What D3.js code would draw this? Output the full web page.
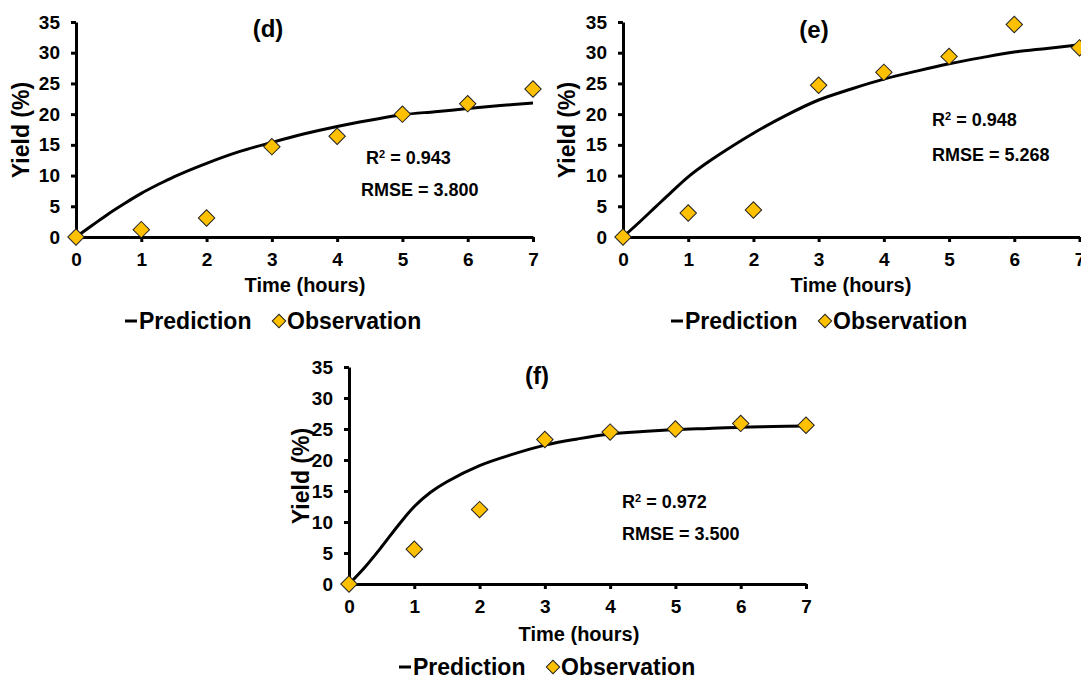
<!DOCTYPE html>
<html>
<head>
<meta charset="utf-8">
<script src="https://cdn.jsdelivr.net/npm/d3@7"></script>
<style>
  body { margin: 0; background: #fff; }
  svg { display: block; font-family: "Liberation Sans", Arial, sans-serif; font-weight: bold; }
</style>
</head>
<body>
<svg id="chart"></svg>
<script>
// Yield vs time: prediction curve and observations, panels (d), (e), (f)

const hours = [0, 1, 2, 3, 4, 5, 6, 7];
const yieldTicks = [0, 5, 10, 15, 20, 25, 30, 35];

const obsD = [0, 1.2, 3.1, 14.7, 16.4, 20.0, 21.7, 24.1];
const obsE = [0, 3.9, 4.4, 24.7, 26.8, 29.4, 34.6, 30.8];
const obsF = [0, 5.6, 12.0, 23.3, 24.5, 25.0, 25.9, 25.6];

const predHours = [0, 0.25, 0.5, 0.75, 1, 1.25, 1.5, 2, 2.5, 3, 3.5, 4, 4.5, 5, 5.5, 6, 6.5, 7];
const predD = [0, 1.9, 3.8, 5.5, 7.1, 8.5, 9.8, 12.0, 13.9, 15.4, 16.8, 18.0, 19.0, 19.9, 20.4, 20.9, 21.4, 21.8];
const predE = [0, 2.4, 4.9, 7.4, 9.8, 11.8, 13.6, 16.9, 19.8, 22.3, 24.1, 25.7, 27.0, 28.2, 29.2, 30.1, 30.7, 31.3];
const predF = [0, 2.8, 6.0, 9.4, 12.5, 14.8, 16.5, 19.1, 20.9, 22.4, 23.4, 24.2, 24.6, 24.9, 25.1, 25.3, 25.4, 25.5];

const panelNames = ["(d)", "(e)", "(f)"];
const r2Values = ["0.943", "0.948", "0.972"];
const rmseValues = ["3.800", "5.268", "3.500"];

const obsSeries = [obsD, obsE, obsF];
const predSeries = [predD, predE, predF];

// where each panel sits on the page
const layout = [
    { x: [76, 533], y: [237, 22], title: [268, 37], xLab: [305, 292], yLab: [23, 130],
      r2: [366, 164], rmse: [361, 196], legend: [125, 329] },
    { x: [623, 1079.5], y: [237, 22], title: [814, 38], xLab: [851, 292], yLab: [569, 130],
      r2: [932, 126], rmse: [932, 161], legend: [671, 329] },
    { x: [349, 806], y: [584, 367], title: [537, 384], xLab: [579, 641], yLab: [303, 476],
      r2: [622, 508], rmse: [622, 540], legend: [399, 675] }
];

const width = 1081;
const height = 679;

const svg = d3.select("#chart")
    .attr("width", width)
    .attr("height", height);

svg.append("rect").attr("width", width).attr("height", height).attr("fill", "#fff");

const gold = "#FFC000";
const diamond = d3.symbol().type(d3.symbolSquare).size(135);

layout.forEach((L, i) => {
    const x = d3.scaleLinear().domain([0, 7]).range(L.x);
    const y = d3.scaleLinear().domain([0, 35]).range(L.y);
    const g = svg.append("g");

    // axes
    const yAxis = g.append("g")
        .attr("transform", `translate(${L.x[0]},0)`)
        .call(d3.axisLeft(y).tickValues(yieldTicks).tickFormat(d3.format("d"))
            .tickSize(5).tickSizeOuter(0).tickPadding(11));
    const xAxis = g.append("g")
        .attr("transform", `translate(0,${L.y[0]})`)
        .call(d3.axisBottom(x).tickValues(hours).tickFormat(d3.format("d"))
            .tickSize(5).tickSizeOuter(0).tickPadding(11));

    [xAxis, yAxis].forEach(a => {
        a.select(".domain").attr("stroke", "#000").attr("stroke-width", 3);
        a.selectAll(".tick line").attr("stroke", "#000").attr("stroke-width", 3);
        a.selectAll(".tick text")
            .attr("fill", "#000")
            .style("font-size", "19px")
            .style("font-family", "'Liberation Sans', Arial, sans-serif")
            .style("font-weight", "bold");
    });

    // prediction curve
    const line = d3.line()
        .x((d, j) => x(predHours[j]))
        .y(d => y(d))
        .curve(d3.curveCatmullRom.alpha(0.5));

    g.append("path")
        .datum(predSeries[i])
        .attr("d", line)
        .attr("fill", "none")
        .attr("stroke", "#000")
        .attr("stroke-width", 3);

    // observations
    g.selectAll(".obs")
        .data(obsSeries[i])
        .enter().append("path")
        .attr("class", "obs")
        .attr("d", diamond)
        .attr("transform", (d, j) => `translate(${x(hours[j])},${y(d)}) rotate(45)`)
        .attr("fill", gold)
        .attr("stroke", "#222")
        .attr("stroke-width", 1);

    // titles and labels
    g.append("text")
        .attr("x", L.title[0]).attr("y", L.title[1])
        .attr("text-anchor", "middle")
        .style("font-size", "24px")
        .text(panelNames[i]);

    g.append("text")
        .attr("x", L.xLab[0]).attr("y", L.xLab[1])
        .attr("text-anchor", "middle")
        .style("font-size", "20px")
        .text("Time (hours)");

    g.append("text")
        .attr("transform", `translate(${L.yLab[0] + 6},${L.yLab[1]}) rotate(-90)`)
        .attr("text-anchor", "middle")
        .style("font-size", "23px")
        .text("Yield (%)");

    const r2 = g.append("text")
        .attr("x", L.r2[0]).attr("y", L.r2[1])
        .style("font-size", "18px");
    r2.append("tspan").text("R");
    r2.append("tspan").attr("dy", -6).style("font-size", "11px").text("2");
    r2.append("tspan").attr("dy", 6).text(" = " + r2Values[i]);

    g.append("text")
        .attr("x", L.rmse[0]).attr("y", L.rmse[1])
        .style("font-size", "18px")
        .text("RMSE = " + rmseValues[i]);

    // legend
    const lx = L.legend[0];
    const ly = L.legend[1];
    g.append("line")
        .attr("x1", lx).attr("x2", lx + 12)
        .attr("y1", ly - 8).attr("y2", ly - 8)
        .attr("stroke", "#000").attr("stroke-width", 3);
    g.append("text")
        .attr("x", lx + 14).attr("y", ly)
        .style("font-size", "23px")
        .text("Prediction");
    g.append("path")
        .attr("d", d3.symbol().type(d3.symbolSquare).size(90))
        .attr("transform", `translate(${lx + 154},${ly - 8}) rotate(45)`)
        .attr("fill", gold)
        .attr("stroke", "#222")
        .attr("stroke-width", 1);
    g.append("text")
        .attr("x", lx + 162).attr("y", ly)
        .style("font-size", "23px")
        .text("Observation");
});
</script>
</body>
</html>
